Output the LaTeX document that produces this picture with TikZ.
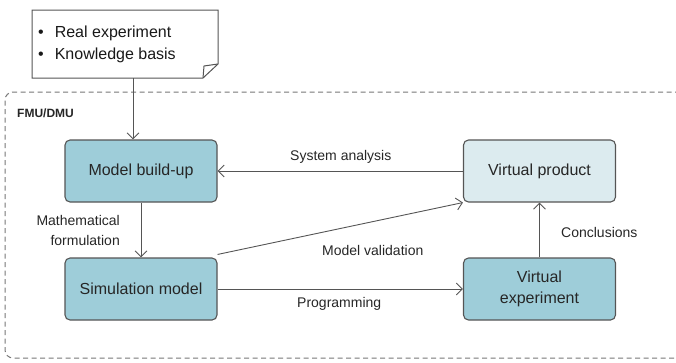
\documentclass[tikz,border=0pt]{standalone}
\usepackage{fontspec}
\setmainfont{Liberation Sans}
\usetikzlibrary{arrows.meta}
\definecolor{darkbox}{HTML}{9ECDD9}
\definecolor{lightbox}{HTML}{DCEBEF}
\definecolor{edge}{HTML}{555555}
\tikzset{
  procbox/.style={draw=edge, line width=1.1pt, rounded corners=5pt, minimum width=152pt, minimum height=62pt, align=center, font=\fontsize{16}{19}\selectfont, text=black!85, inner sep=2pt},
  conn/.style={draw=edge, line width=0.9pt, -{Straight Barb[length=6pt,width=12pt]}},
  lbl/.style={font=\fontsize{14}{16}\selectfont, text=black!85, inner sep=1pt}
}
\begin{document}
\begin{tikzpicture}[x=1pt,y=-1pt]
\useasboundingbox (0,0) rectangle (676,362);
% frame
\draw[edge!80, line width=1pt, dash pattern=on 5pt off 3.5pt, rounded corners=8pt] (680,92) -- (5,92) -- (5,358) -- (680,358);
\node[anchor=west, font=\bfseries\fontsize{12}{14}\selectfont, text=black!85, inner sep=0pt] (fmu) at (17,113) {FMU/DMU};
% note
\draw[edge, line width=1pt, fill=white] (32,10) -- (218,10) -- (218,64) -- (203,78) -- (32,78) -- cycle;
\draw[edge, line width=1pt] (218,64) -- (204,66) -- (203,78);
\node[anchor=west, align=left, font=\fontsize{16}{22}\selectfont, text=black!90, inner sep=0pt] (note) at (38,44) {\textbullet\hspace{11pt}Real experiment\\\textbullet\hspace{11pt}Knowledge basis};
\coordinate (notebot) at (133,78);
% boxes
\node[procbox, fill=darkbox] (mb) at (141,171) {Model build-up};
\node[procbox, fill=darkbox] (sm) at (141,289) {Simulation model};
\node[procbox, fill=lightbox] (vp) at (539.5,171) {Virtual product};
\node[procbox, fill=darkbox, font=\fontsize{16}{21}\selectfont] (ve) at (539.5,289) {Virtual\\experiment};
% connectors
\coordinate (mvs) at ([yshift=3pt]sm.north east);
\draw[conn] (notebot) -- (notebot |- mb.north);
\draw[conn] (vp.west) -- (mb.east);
\draw[conn] (mb.south) -- (sm.north);
\draw[conn] (mvs) -- (vp.south west);
\draw[conn] (sm.east) -- (ve.west);
\draw[conn] (ve.north) -- (vp.south);
% labels
\node[lbl, anchor=west] (l1) at (289,157) {System analysis};
\node[lbl, align=right, anchor=east, font=\fontsize{14}{20}\selectfont] (l2) at (121,230) {Mathematical\\formulation};
\node[lbl, anchor=west] (l3) at (321,250) {Model validation};
\node[lbl, anchor=west] (l4) at (296,304) {Programming};
\node[lbl, anchor=west] (l5) at (560,232) {Conclusions};
\end{tikzpicture}
\end{document}
